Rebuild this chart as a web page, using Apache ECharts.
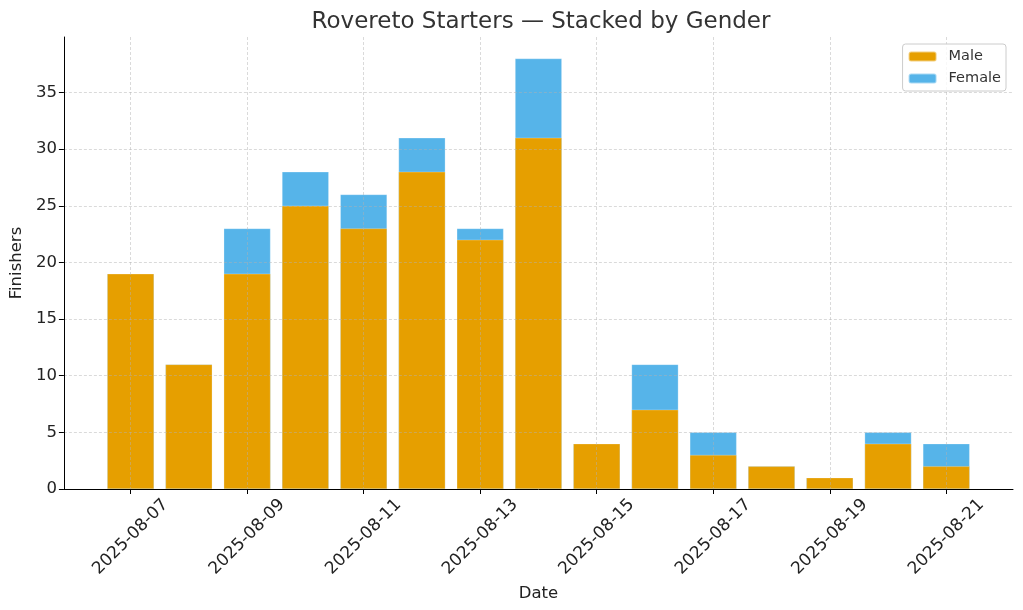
<!DOCTYPE html>
<html>
<head>
<meta charset="utf-8">
<script src="https://cdn.jsdelivr.net/npm/echarts@6/dist/echarts.min.js"></script>
<style>html,body{margin:0;padding:0;background:#fff}#c{width:1023px;height:610px}</style>
</head>
<body>
<div id="c"></div>
<script>
var dates = ['2025-08-07','2025-08-08','2025-08-09','2025-08-10','2025-08-11','2025-08-12','2025-08-13','2025-08-14','2025-08-15','2025-08-16','2025-08-17','2025-08-18','2025-08-19','2025-08-20','2025-08-21'];
var male   = [19, 11, 19, 25, 23, 28, 22, 31, 4, 7, 3, 2, 1, 4, 2];
var female = [0, 0, 4, 3, 3, 3, 1, 7, 0, 4, 2, 0, 0, 1, 2];
var xTickIdx = [0, 2, 4, 6, 8, 10, 12, 14];
var yTicks = [0, 5, 10, 15, 20, 25, 30, 35];

var font = 'DejaVu Sans';
var chart = echarts.init(document.getElementById('c'), null, {renderer: 'canvas'});
// Male bars from 0; Female segment stacked on top of Male (drawn as total, behind Male)
var maleData = male.map(function(v, i){ return [i, v]; });
var femaleData = female.map(function(v, i){ return [i, male[i] + v]; });
var gridLine = {show: true, lineStyle: {color: 'rgba(176,176,176,0.6)', type: [3, 2], width: 0.8}};
chart.setOption({
  animation: false,
  backgroundColor: '#fff',
  title: {
    text: 'Rovereto Starters \u2014 Stacked by Gender',
    left: 536, top: 6, textAlign: 'center',
    textStyle: {fontFamily: font, fontSize: 23, fontWeight: 'normal', color: '#333'}
  },
  legend: {
    right: 17, top: 44, orient: 'vertical',
    itemWidth: 28, itemHeight: 10, itemGap: 7,
    padding: [5, 5, 5, 5],
    borderColor: '#ccc', borderWidth: 1, borderRadius: 3,
    backgroundColor: 'rgba(255,255,255,0.8)',
    textStyle: {fontFamily: font, fontSize: 14.5, color: '#333', padding: [0, 0, 0, 7]},
    data: ['Male', 'Female']
  },
  grid: {left: 60, right: 10, top: 37, bottom: 121, containLabel: false},
  xAxis: {
    type: 'value', min: -1.145, max: 15.145, z: 3,
    name: 'Date', nameLocation: 'middle', nameGap: 94,
    nameTextStyle: {fontFamily: font, fontSize: 16.5, color: '#222'},
    axisLine: {show: true, onZero: false, lineStyle: {color: '#000', width: 1}},
    axisTick: {show: true, customValues: xTickIdx, length: 5, lineStyle: {color: '#000'}},
    axisLabel: {customValues: xTickIdx, rotate: 45, align: 'center', verticalAlign: 'middle',
      fontFamily: font, fontSize: 17, color: '#222', margin: 48,
      formatter: function(v){ return dates[Math.round(v)] || ''; }},
    splitLine: gridLine
  },
  yAxis: {
    type: 'value', min: 0, max: 39.9, z: 3,
    name: 'Finishers', nameLocation: 'middle', nameGap: 33,
    nameTextStyle: {fontFamily: font, fontSize: 16.5, color: '#222'},
    axisLine: {show: true, onZero: false, lineStyle: {color: '#000', width: 1}},
    axisTick: {show: true, customValues: yTicks, length: 5, lineStyle: {color: '#000'}},
    axisLabel: {customValues: yTicks, fontFamily: font, fontSize: 16.5, color: '#222', margin: 7},
    splitLine: gridLine
  },
  series: [
    {name: 'Male', type: 'bar', data: maleData, barWidth: 46.8, barGap: '-100%', z: 2,
     itemStyle: {color: '#E69F00', borderColor: 'rgba(255,255,255,0.5)', borderWidth: 0.5}},
    {name: 'Female', type: 'bar', data: femaleData, barWidth: 46.8, barGap: '-100%', z: 1,
     itemStyle: {color: '#56B4E9', borderColor: 'rgba(255,255,255,0.5)', borderWidth: 0.5}}
  ]
});
</script>
</body>
</html>
